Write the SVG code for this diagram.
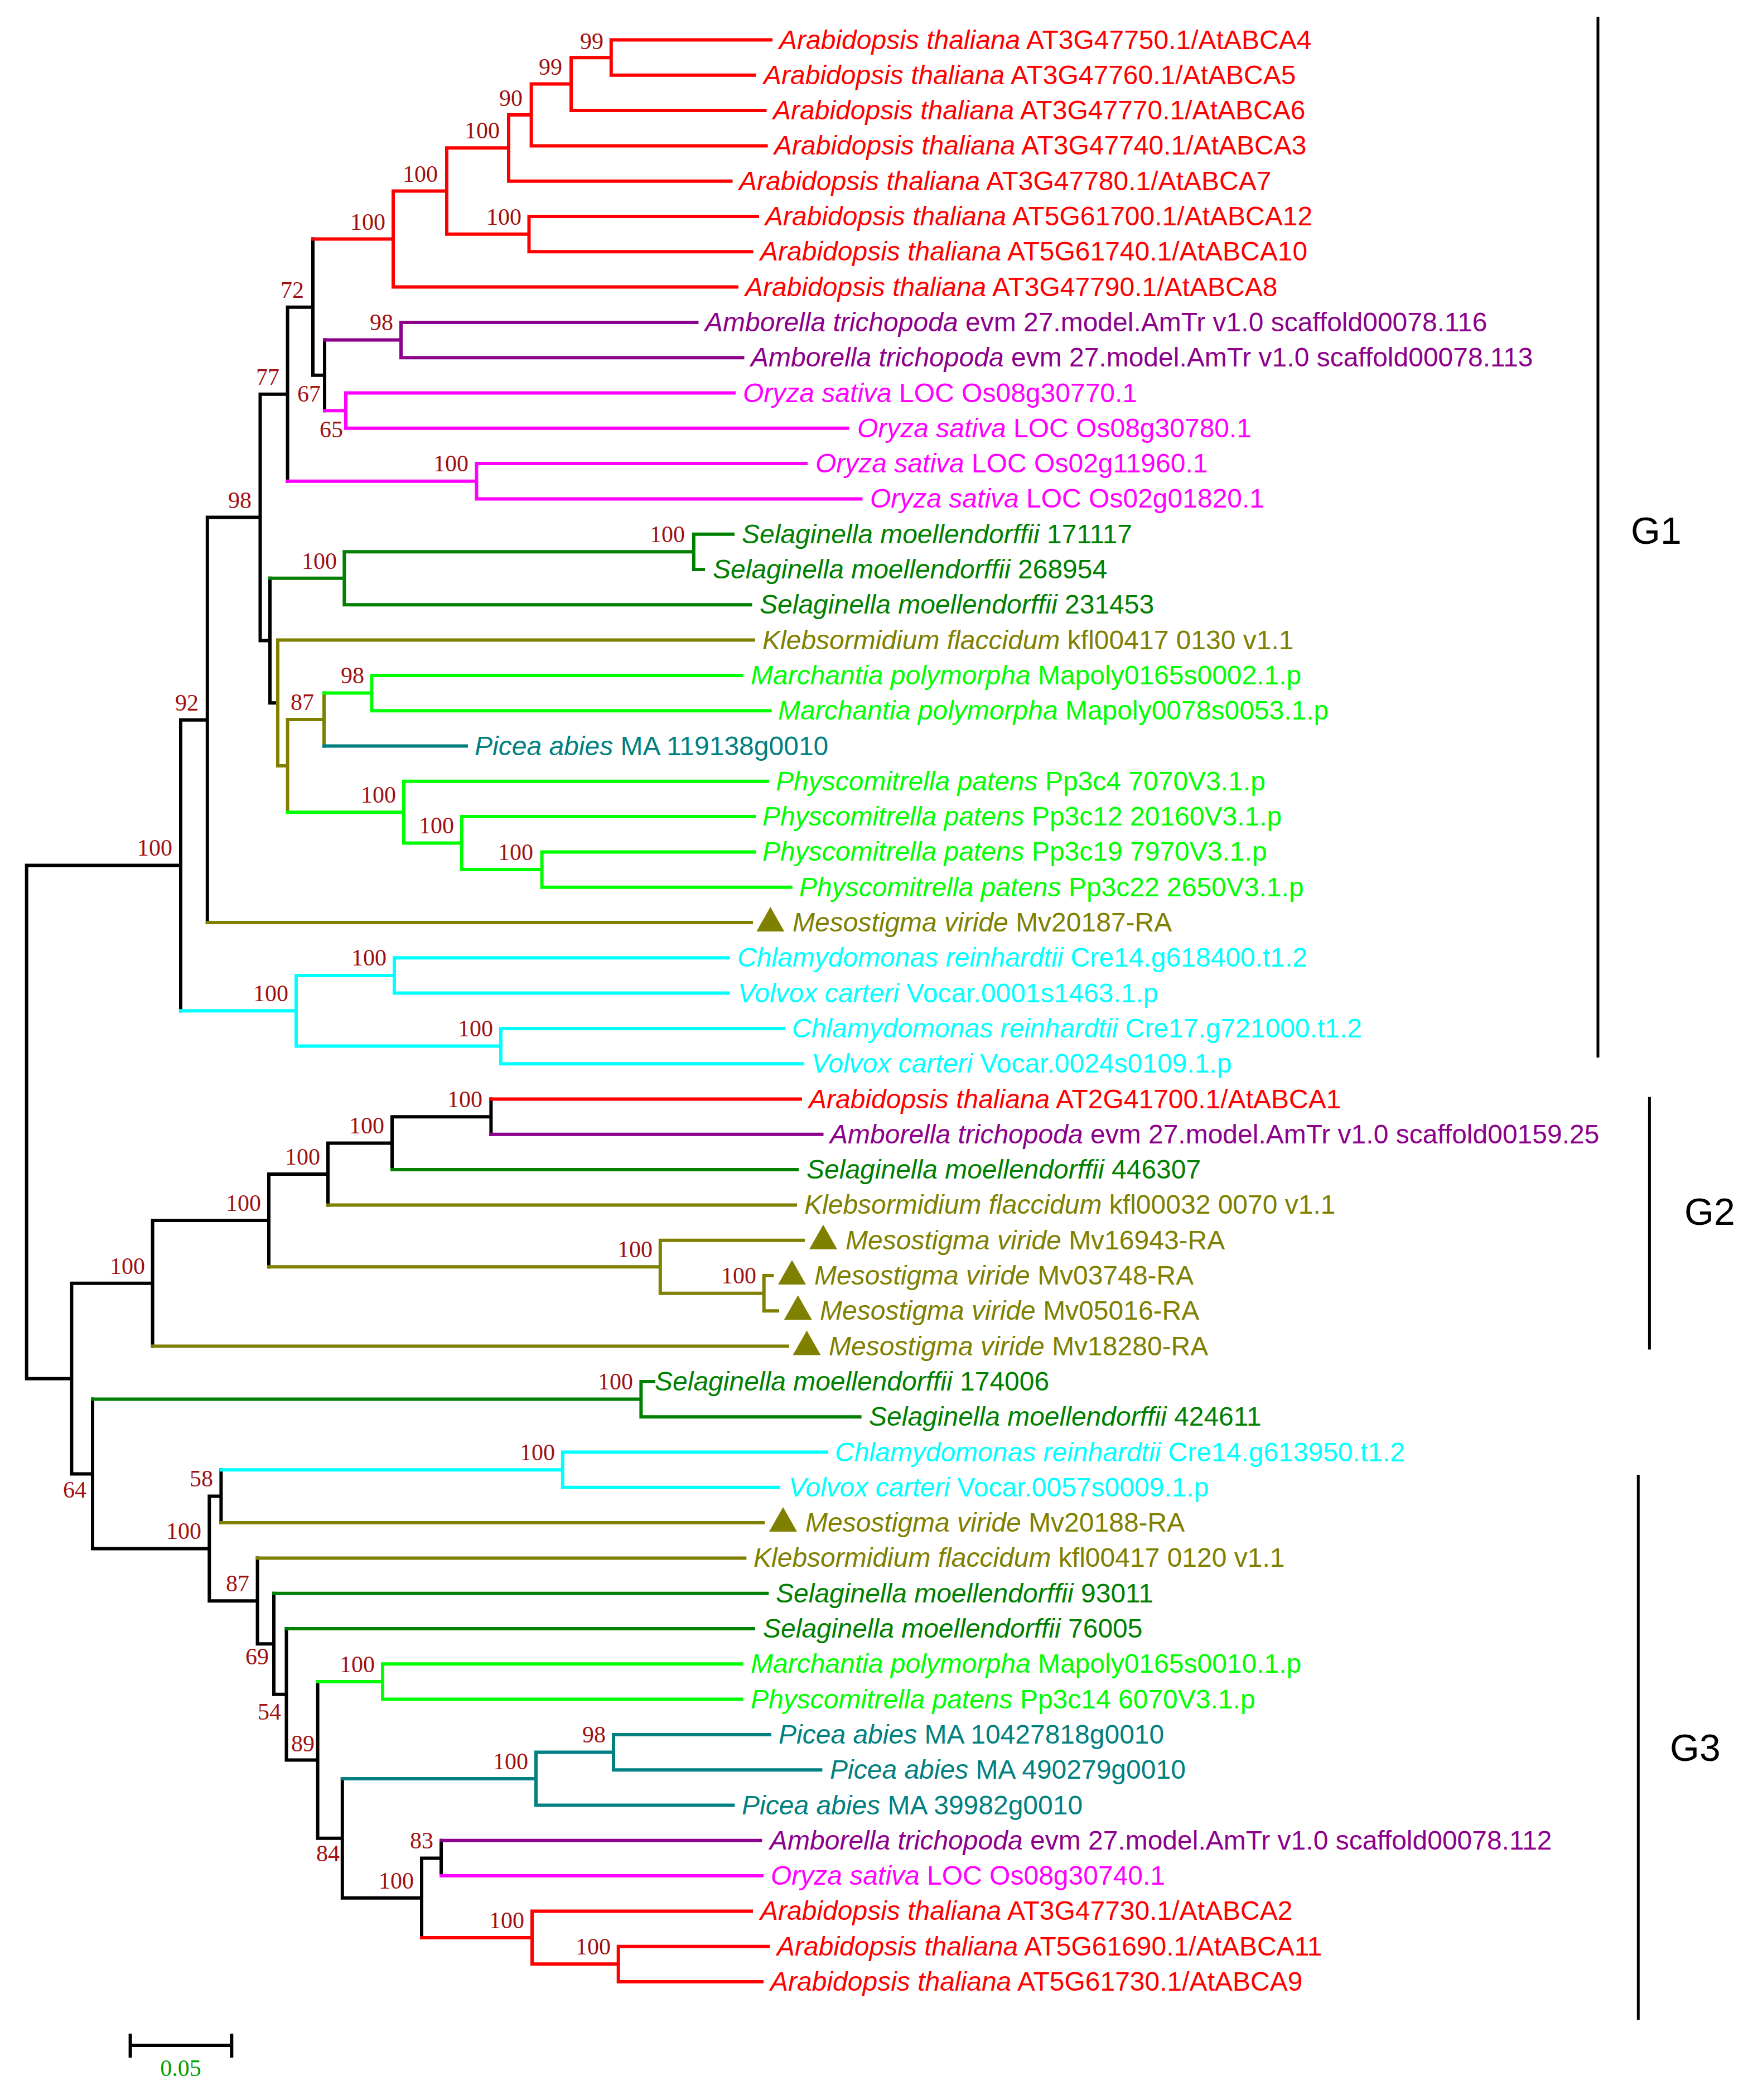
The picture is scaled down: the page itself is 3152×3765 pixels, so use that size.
<svg xmlns="http://www.w3.org/2000/svg" width="3152" height="3765" viewBox="0 0 3152 3765">
<style>
.b{fill:none;stroke-width:6;stroke-linecap:square;stroke-linejoin:miter}
.k{stroke:#000}.r{stroke:#FF0000}.p{stroke:#8C008C}.m{stroke:#FF00FF}.dg{stroke:#008000}.o{stroke:#808000}.g{stroke:#00FF00}.t{stroke:#008080}.c{stroke:#00FFFF}
text.l{font-family:"Liberation Sans",Arial,sans-serif;font-size:48px}
.i{font-style:italic}
.fr{fill:#FF0000}.fp{fill:#8C008C}.fm{fill:#FF00FF}.fdg{fill:#008000}.fo{fill:#808000}.fg{fill:#00FF00}.ft{fill:#008080}.fc{fill:#00FFFF}
text.bs{font-family:"Liberation Serif","Times New Roman",serif;font-size:42px;fill:#A01010;text-anchor:end}
.br{stroke:#000;stroke-width:5;fill:none}
text.gl{font-family:"Liberation Sans",Arial,sans-serif;font-size:68px;fill:#000}
</style>
<rect width="3152" height="3765" fill="#fff"/>
<g id="connectors">
<path class="b k" d="M47.7 1551.5V2471.7M47.7 1551.5H324M324 1290.8V1812.25M324 1290.8H371.8M371.8 927.6V1654M371.8 927.6H466.5M466.5 706.7V1148.6M466.5 706.7H515.6M515.6 550.7V862.75M515.6 550.7H561M561 428.55V672.85M561 672.85H582M582 609.55V736.15M466.5 1148.6H484M484 1036.8V1260.35M484 1260.35H498M47.7 2471.7H128.4M128.4 2300.85V2642.5M128.4 2300.85H273.6M273.6 2188.1V2413.6M273.6 2188.1H482M482 2105V2271.2M482 2105H588M588 2049.6V2160.4M588 2049.6H703M703 2002.15V2097.1M703 2002.15H880.4M880.4 1970.5V2033.8M128.4 2642.5H166M166 2508.55V2776.45M166 2776.45H375.3M375.3 2682.6V2870.3M375.3 2682.6H396.4M396.4 2635.15V2730.1M375.3 2870.3H461.6M461.6 2793.4V2947.2M461.6 2947.2H491M491 2856.7V3037.7M491 3037.7H513.5M513.5 2920V3155.4M513.5 3155.4H569.6M569.6 3014.95V3295.85M569.6 3295.85H613.8M613.8 3189V3402.7M613.8 3402.7H756M756 3331.45V3473.9M756 3331.45H791M791 3299.8V3363.1"/>
<path class="b r" d="M561 428.55H705M705 342.5V514.6M705 514.6H1321M705 342.5H801M801 265.35V419.65M801 265.35H912M801 419.65H948.5M948.5 388V451.3M948.5 388H1358M948.5 451.3H1347.6M912 206V324.7M912 324.7H1310.5M912 206H952.6M952.6 150.6V261.4M952.6 261.4H1373.6M952.6 150.6H1024M1024 103.15V198.1M1024 198.1H1371.5M1024 103.15H1095.8M1095.8 71.5V134.8M1095.8 71.5H1382M1095.8 134.8H1352.5M880.4 1970.5H1435M756 3473.9H954M954 3426.4V3521.35M954 3426.4H1347M954 3521.35H1108.7M1108.7 3489.7V3553M1108.7 3489.7H1377.4M1108.7 3553H1366"/>
<path class="b p" d="M582 609.55H719M719 577.9V641.2M719 577.9H1249.4M719 641.2H1331.5M880.4 2033.8H1473.5M791 3299.8H1363.4"/>
<path class="b m" d="M582 736.15H620M620 704.5V767.8M620 704.5H1316M620 767.8H1519.5M515.6 862.75H854.4M854.4 831.1V894.4M854.4 831.1H1445M854.4 894.4H1543.4M791 3363.1H1366"/>
<path class="b dg" d="M484 1036.8H617.3M617.3 989.35V1084.3M617.3 1084.3H1345.5M617.3 989.35H1243.8M1243.8 957.7V1021M1243.8 957.7H1314M1243.8 1021H1261M703 2097.1H1429M166 2508.55H1149.4M1149.4 2476.9V2540.2M1149.4 2476.9H1172M1149.4 2540.2H1541.6M491 2856.7H1375.3M513.5 2920H1350.8"/>
<path class="b o" d="M498 1147.6V1373.1M498 1147.6H1351M498 1373.1H515.6M515.6 1290V1456.2M515.6 1290H581M581 1242.55V1337.5M371.8 1654H1347M588 2160.4H1426M482 2271.2H1183.8M1183.8 2223.7V2318.65M1183.8 2223.7H1440M1183.8 2318.65H1369.7M1369.7 2287V2350.3M1369.7 2287H1384.4M1369.7 2350.3H1394M273.6 2413.6H1411.8M396.4 2730.1H1368.3M461.6 2793.4H1335.3"/>
<path class="b g" d="M581 1242.55H666.4M666.4 1210.9V1274.2M666.4 1210.9H1330M666.4 1274.2H1380.6M515.6 1456.2H724M724 1400.8V1511.6M724 1400.8H1375.7M724 1511.6H827.8M827.8 1464.1V1559.05M827.8 1464.1H1352.5M827.8 1559.05H971.6M971.6 1527.4V1590.7M971.6 1527.4H1352.5M971.6 1590.7H1417.8M569.6 3014.95H686M686 2983.3V3046.6M686 2983.3H1329.7M686 3046.6H1329.7"/>
<path class="b t" d="M581 1337.5H836M613.8 3189H961M961 3141.55V3236.5M961 3236.5H1314.3M961 3141.55H1100M1100 3109.9V3173.2M1100 3109.9H1380M1100 3173.2H1471.4"/>
<path class="b c" d="M324 1812.25H531M531 1748.95V1875.55M531 1748.95H707M707 1717.3V1780.6M707 1717.3H1305.5M707 1780.6H1305.5M531 1875.55H898M898 1843.9V1907.2M898 1843.9H1405M898 1907.2H1438.4M396.4 2635.15H1008.8M1008.8 2603.5V2666.8M1008.8 2603.5H1482M1008.8 2666.8H1396"/>
</g>
<g id="bootstrap">
<text class="bs" x="1082" y="88">99</text>
<text class="bs" x="1008" y="134">99</text>
<text class="bs" x="937" y="190">90</text>
<text class="bs" x="896" y="248">100</text>
<text class="bs" x="785" y="326">100</text>
<text class="bs" x="935" y="403">100</text>
<text class="bs" x="691" y="412">100</text>
<text class="bs" x="545" y="534">72</text>
<text class="bs" x="705" y="592">98</text>
<text class="bs" x="575" y="720">67</text>
<text class="bs" x="615" y="784">65</text>
<text class="bs" x="501" y="690">77</text>
<text class="bs" x="840" y="845">100</text>
<text class="bs" x="451" y="911">98</text>
<text class="bs" x="604" y="1020">100</text>
<text class="bs" x="1228" y="972">100</text>
<text class="bs" x="653" y="1225">98</text>
<text class="bs" x="563" y="1273">87</text>
<text class="bs" x="710" y="1439">100</text>
<text class="bs" x="814" y="1494">100</text>
<text class="bs" x="956" y="1542">100</text>
<text class="bs" x="356" y="1274">92</text>
<text class="bs" x="309" y="1534">100</text>
<text class="bs" x="517" y="1795">100</text>
<text class="bs" x="693" y="1731">100</text>
<text class="bs" x="884" y="1858">100</text>
<text class="bs" x="865" y="1985">100</text>
<text class="bs" x="689" y="2032">100</text>
<text class="bs" x="574" y="2088">100</text>
<text class="bs" x="468" y="2171">100</text>
<text class="bs" x="260" y="2284">100</text>
<text class="bs" x="1170" y="2254">100</text>
<text class="bs" x="1356" y="2301">100</text>
<text class="bs" x="1135" y="2491">100</text>
<text class="bs" x="155" y="2685">64</text>
<text class="bs" x="361" y="2759">100</text>
<text class="bs" x="382" y="2665">58</text>
<text class="bs" x="995" y="2618">100</text>
<text class="bs" x="447" y="2853">87</text>
<text class="bs" x="482" y="2984">69</text>
<text class="bs" x="504" y="3083">54</text>
<text class="bs" x="564" y="3140">89</text>
<text class="bs" x="672" y="2998">100</text>
<text class="bs" x="609" y="3337">84</text>
<text class="bs" x="947" y="3172">100</text>
<text class="bs" x="1086" y="3124">98</text>
<text class="bs" x="777" y="3314">83</text>
<text class="bs" x="742" y="3386">100</text>
<text class="bs" x="940" y="3457">100</text>
<text class="bs" x="1095" y="3504">100</text>
</g>
<g id="leaf-01"><text class="l fr" x="1397" y="87.5"><tspan class="i">Arabidopsis thaliana</tspan> AT3G47750.1/AtABCA4</text></g>
<g id="leaf-02"><text class="l fr" x="1369" y="150.8"><tspan class="i">Arabidopsis thaliana</tspan> AT3G47760.1/AtABCA5</text></g>
<g id="leaf-03"><text class="l fr" x="1386" y="214.1"><tspan class="i">Arabidopsis thaliana</tspan> AT3G47770.1/AtABCA6</text></g>
<g id="leaf-04"><text class="l fr" x="1388" y="277.4"><tspan class="i">Arabidopsis thaliana</tspan> AT3G47740.1/AtABCA3</text></g>
<g id="leaf-05"><text class="l fr" x="1325" y="340.7"><tspan class="i">Arabidopsis thaliana</tspan> AT3G47780.1/AtABCA7</text></g>
<g id="leaf-06"><text class="l fr" x="1372" y="404"><tspan class="i">Arabidopsis thaliana</tspan> AT5G61700.1/AtABCA12</text></g>
<g id="leaf-07"><text class="l fr" x="1363" y="467.3"><tspan class="i">Arabidopsis thaliana</tspan> AT5G61740.1/AtABCA10</text></g>
<g id="leaf-08"><text class="l fr" x="1336" y="530.6"><tspan class="i">Arabidopsis thaliana</tspan> AT3G47790.1/AtABCA8</text></g>
<g id="leaf-09"><text class="l fp" x="1264" y="593.9"><tspan class="i">Amborella trichopoda</tspan> evm 27.model.AmTr v1.0 scaffold00078.116</text></g>
<g id="leaf-10"><text class="l fp" x="1346" y="657.2"><tspan class="i">Amborella trichopoda</tspan> evm 27.model.AmTr v1.0 scaffold00078.113</text></g>
<g id="leaf-11"><text class="l fm" x="1332" y="720.5"><tspan class="i">Oryza sativa</tspan> LOC Os08g30770.1</text></g>
<g id="leaf-12"><text class="l fm" x="1537" y="783.8"><tspan class="i">Oryza sativa</tspan> LOC Os08g30780.1</text></g>
<g id="leaf-13"><text class="l fm" x="1462" y="847.1"><tspan class="i">Oryza sativa</tspan> LOC Os02g11960.1</text></g>
<g id="leaf-14"><text class="l fm" x="1560" y="910.4"><tspan class="i">Oryza sativa</tspan> LOC Os02g01820.1</text></g>
<g id="leaf-15"><text class="l fdg" x="1330" y="973.7"><tspan class="i">Selaginella moellendorffii</tspan> 171117</text></g>
<g id="leaf-16"><text class="l fdg" x="1278" y="1037"><tspan class="i">Selaginella moellendorffii</tspan> 268954</text></g>
<g id="leaf-17"><text class="l fdg" x="1362" y="1100.3"><tspan class="i">Selaginella moellendorffii</tspan> 231453</text></g>
<g id="leaf-18"><text class="l fo" x="1367" y="1163.6"><tspan class="i">Klebsormidium flaccidum</tspan> kfl00417 0130 v1.1</text></g>
<g id="leaf-19"><text class="l fg" x="1346" y="1226.9"><tspan class="i">Marchantia polymorpha</tspan> Mapoly0165s0002.1.p</text></g>
<g id="leaf-20"><text class="l fg" x="1395" y="1290.2"><tspan class="i">Marchantia polymorpha</tspan> Mapoly0078s0053.1.p</text></g>
<g id="leaf-21"><text class="l ft" x="851" y="1353.5"><tspan class="i">Picea abies</tspan> MA 119138g0010</text></g>
<g id="leaf-22"><text class="l fg" x="1391" y="1416.8"><tspan class="i">Physcomitrella patens</tspan> Pp3c4 7070V3.1.p</text></g>
<g id="leaf-23"><text class="l fg" x="1367" y="1480.1"><tspan class="i">Physcomitrella patens</tspan> Pp3c12 20160V3.1.p</text></g>
<g id="leaf-24"><text class="l fg" x="1367" y="1543.4"><tspan class="i">Physcomitrella patens</tspan> Pp3c19 7970V3.1.p</text></g>
<g id="leaf-25"><text class="l fg" x="1433" y="1606.7"><tspan class="i">Physcomitrella patens</tspan> Pp3c22 2650V3.1.p</text></g>
<g id="leaf-26"><polygon class="fo" points="1356.3,1670 1381.3,1626 1406.3,1670"/><text class="l fo" x="1421" y="1670"><tspan class="i">Mesostigma viride</tspan> Mv20187-RA</text></g>
<g id="leaf-27"><text class="l fc" x="1322" y="1733.3"><tspan class="i">Chlamydomonas reinhardtii</tspan> Cre14.g618400.t1.2</text></g>
<g id="leaf-28"><text class="l fc" x="1323" y="1796.6"><tspan class="i">Volvox carteri</tspan> Vocar.0001s1463.1.p</text></g>
<g id="leaf-29"><text class="l fc" x="1420" y="1859.9"><tspan class="i">Chlamydomonas reinhardtii</tspan> Cre17.g721000.t1.2</text></g>
<g id="leaf-30"><text class="l fc" x="1455" y="1923.2"><tspan class="i">Volvox carteri</tspan> Vocar.0024s0109.1.p</text></g>
<g id="leaf-31"><text class="l fr" x="1450" y="1986.5"><tspan class="i">Arabidopsis thaliana</tspan> AT2G41700.1/AtABCA1</text></g>
<g id="leaf-32"><text class="l fp" x="1488" y="2049.8"><tspan class="i">Amborella trichopoda</tspan> evm 27.model.AmTr v1.0 scaffold00159.25</text></g>
<g id="leaf-33"><text class="l fdg" x="1446" y="2113.1"><tspan class="i">Selaginella moellendorffii</tspan> 446307</text></g>
<g id="leaf-34"><text class="l fo" x="1442" y="2176.4"><tspan class="i">Klebsormidium flaccidum</tspan> kfl00032 0070 v1.1</text></g>
<g id="leaf-35"><polygon class="fo" points="1451,2239.7 1476,2195.7 1501,2239.7"/><text class="l fo" x="1516" y="2239.7"><tspan class="i">Mesostigma viride</tspan> Mv16943-RA</text></g>
<g id="leaf-36"><polygon class="fo" points="1395,2303 1420,2259 1445,2303"/><text class="l fo" x="1460" y="2303"><tspan class="i">Mesostigma viride</tspan> Mv03748-RA</text></g>
<g id="leaf-37"><polygon class="fo" points="1405.7,2366.3 1430.7,2322.3 1455.7,2366.3"/><text class="l fo" x="1470" y="2366.3"><tspan class="i">Mesostigma viride</tspan> Mv05016-RA</text></g>
<g id="leaf-38"><polygon class="fo" points="1421.5,2429.6 1446.5,2385.6 1471.5,2429.6"/><text class="l fo" x="1486" y="2429.6"><tspan class="i">Mesostigma viride</tspan> Mv18280-RA</text></g>
<g id="leaf-39"><text class="l fdg" x="1174" y="2492.9"><tspan class="i">Selaginella moellendorffii</tspan> 174006</text></g>
<g id="leaf-40"><text class="l fdg" x="1558" y="2556.2"><tspan class="i">Selaginella moellendorffii</tspan> 424611</text></g>
<g id="leaf-41"><text class="l fc" x="1497" y="2619.5"><tspan class="i">Chlamydomonas reinhardtii</tspan> Cre14.g613950.t1.2</text></g>
<g id="leaf-42"><text class="l fc" x="1414" y="2682.8"><tspan class="i">Volvox carteri</tspan> Vocar.0057s0009.1.p</text></g>
<g id="leaf-43"><polygon class="fo" points="1379,2746.1 1404,2702.1 1429,2746.1"/><text class="l fo" x="1444" y="2746.1"><tspan class="i">Mesostigma viride</tspan> Mv20188-RA</text></g>
<g id="leaf-44"><text class="l fo" x="1351" y="2809.4"><tspan class="i">Klebsormidium flaccidum</tspan> kfl00417 0120 v1.1</text></g>
<g id="leaf-45"><text class="l fdg" x="1391" y="2872.7"><tspan class="i">Selaginella moellendorffii</tspan> 93011</text></g>
<g id="leaf-46"><text class="l fdg" x="1368" y="2936"><tspan class="i">Selaginella moellendorffii</tspan> 76005</text></g>
<g id="leaf-47"><text class="l fg" x="1346" y="2999.3"><tspan class="i">Marchantia polymorpha</tspan> Mapoly0165s0010.1.p</text></g>
<g id="leaf-48"><text class="l fg" x="1346" y="3062.6"><tspan class="i">Physcomitrella patens</tspan> Pp3c14 6070V3.1.p</text></g>
<g id="leaf-49"><text class="l ft" x="1396" y="3125.9"><tspan class="i">Picea abies</tspan> MA 10427818g0010</text></g>
<g id="leaf-50"><text class="l ft" x="1488" y="3189.2"><tspan class="i">Picea abies</tspan> MA 490279g0010</text></g>
<g id="leaf-51"><text class="l ft" x="1330" y="3252.5"><tspan class="i">Picea abies</tspan> MA 39982g0010</text></g>
<g id="leaf-52"><text class="l fp" x="1380" y="3315.8"><tspan class="i">Amborella trichopoda</tspan> evm 27.model.AmTr v1.0 scaffold00078.112</text></g>
<g id="leaf-53"><text class="l fm" x="1382" y="3379.1"><tspan class="i">Oryza sativa</tspan> LOC Os08g30740.1</text></g>
<g id="leaf-54"><text class="l fr" x="1363" y="3442.4"><tspan class="i">Arabidopsis thaliana</tspan> AT3G47730.1/AtABCA2</text></g>
<g id="leaf-55"><text class="l fr" x="1393" y="3505.7"><tspan class="i">Arabidopsis thaliana</tspan> AT5G61690.1/AtABCA11</text></g>
<g id="leaf-56"><text class="l fr" x="1381" y="3569"><tspan class="i">Arabidopsis thaliana</tspan> AT5G61730.1/AtABCA9</text></g>
<g id="clade-G1"><path class="br" d="M2865 30V1896"/><text class="gl" x="2924" y="975">G1</text></g>
<g id="clade-G2"><path class="br" d="M2957.4 1966.7V2419.5"/><text class="gl" x="3020" y="2196">G2</text></g>
<g id="clade-G3"><path class="br" d="M2937.3 2644V3621.6"/><text class="gl" x="2994" y="3157">G3</text></g>
<g id="scale-bar"><path class="b k" stroke-linecap="butt" d="M233.6 3667H415.3M233.6 3649V3686M415.3 3649V3686"/><text x="324" y="3722" text-anchor="middle" font-family="Liberation Serif, Times New Roman, serif" font-size="42" fill="#00A000">0.05</text></g>
</svg>
